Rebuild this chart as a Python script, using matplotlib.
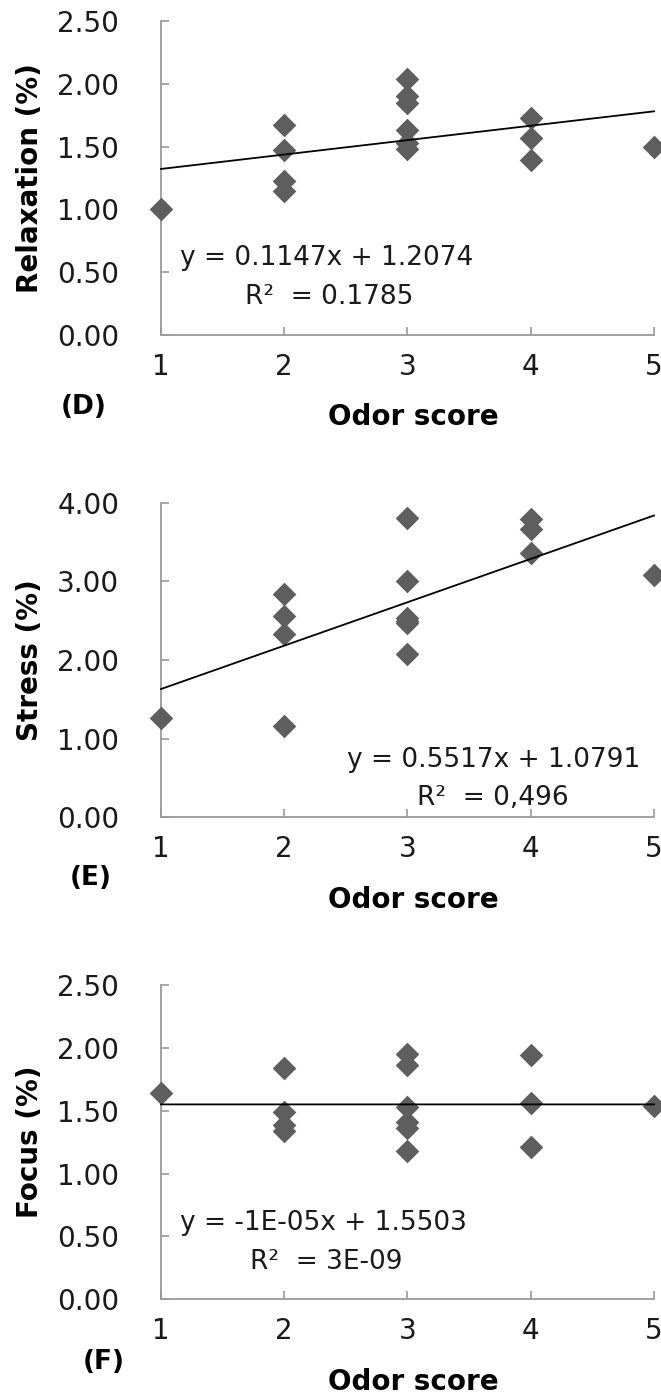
import matplotlib
matplotlib.use("Agg")
import matplotlib.pyplot as plt

# ---------------- data ----------------
odor_x = [1, 2, 2, 2, 2, 3, 3, 3, 3, 3, 3, 4, 4, 4, 5]

relaxation = [1.00, 1.67, 1.47, 1.23, 1.15, 2.04, 1.90, 1.85, 1.63, 1.53, 1.48, 1.73, 1.57, 1.39, 1.50]
stress     = [1.26, 2.84, 2.56, 2.33, 1.16, 3.81, 3.00, 2.53, 2.50, 2.47, 2.08, 3.79, 3.66, 3.36, 3.08]
focus      = [1.64, 1.84, 1.49, 1.39, 1.34, 1.95, 1.86, 1.53, 1.41, 1.36, 1.18, 1.94, 1.56, 1.21, 1.54]

# trend lines (slope, intercept) as printed on the chart
trend_D = (0.1147, 1.2074)
trend_E = (0.5517, 1.0791)
trend_F = (-1e-05, 1.5503)

eq_D = ["y = 0.1147x + 1.2074", "R\u00b2  = 0.1785"]
eq_E = ["y = 0.5517x + 1.0791", "R\u00b2  = 0,496"]
eq_F = ["y = -1E-05x + 1.5503", "R\u00b2  = 3E-09"]

x_ticks = [1, 2, 3, 4, 5]
yticks_D = [0.0, 0.5, 1.0, 1.5, 2.0, 2.5]
yticks_E = [0.0, 1.0, 2.0, 3.0, 4.0]
yticks_F = [0.0, 0.5, 1.0, 1.5, 2.0, 2.5]

ylabels = ["Relaxation (%)", "Stress (%)", "Focus (%)"]
panel_tags = ["(D)", "(E)", "(F)"]
xlabel = "Odor score"

# ---------------- layout ----------------
W, H = 661, 1398
plt.rcParams["font.family"] = ["DejaVu Sans"]
fig = plt.figure(figsize=(W / 100, H / 100), dpi=100)

def fx(px):
    return px / W

def fy(py):
    return 1 - py / H

MARK = "#5e5e5e"
SPINE = "#9a9a9a"
TXT = "#1a1a1a"

panels = [
    dict(top=21, bot=335, y=relaxation, trend=trend_D, ticks=yticks_D, ylim=(0, 2.5),
         eq=eq_D, eqpos=[(180, 258), (245, 297)], tag=(84, 407), xl=417),
    dict(top=502.7, bot=817.3, y=stress, trend=trend_E, ticks=yticks_E, ylim=(0, 4.0),
         eq=eq_E, eqpos=[(347, 760), (417, 798)], tag=(91, 878), xl=900),
    dict(top=985, bot=1299.3, y=focus, trend=trend_F, ticks=yticks_F, ylim=(0, 2.5),
         eq=eq_F, eqpos=[(180, 1223), (250, 1262)], tag=(104, 1362), xl=1382),
]

left_px, right_px = 161, 654

for i, p in enumerate(panels):
    ax = fig.add_axes([fx(left_px), fy(p["bot"]), (right_px - left_px) / W,
                       (p["bot"] - p["top"]) / H])
    ax.set_xlim(1, 5)
    ax.set_ylim(*p["ylim"])
    ax.set_xticks(x_ticks)
    ax.set_yticks(p["ticks"])
    ax.set_yticklabels([f"{t:.2f}" for t in p["ticks"]])
    for s in ["top", "right"]:
        ax.spines[s].set_visible(False)
    for s in ["left", "bottom"]:
        ax.spines[s].set_color(SPINE)
        ax.spines[s].set_linewidth(1.3)
    ax.tick_params(axis="both", direction="in", length=6, width=1.2, color=SPINE,
                   labelsize=20, labelcolor=TXT)
    ax.tick_params(axis="x", pad=13)
    ax.tick_params(axis="y", pad=30)
    ax.patch.set_alpha(0)

    ax.scatter(odor_x, p["y"], marker="D", s=145, color=MARK, linewidths=0,
               zorder=3, clip_on=False)
    m, b = p["trend"]
    xs = [1, 5]
    ax.plot(xs, [m * v + b for v in xs], color="black", lw=1.3, zorder=4, clip_on=False)

    for line, (px, py) in zip(p["eq"], p["eqpos"]):
        fig.text(fx(px), fy(py), line, ha="left", va="center", fontsize=19, color=TXT)

    cy = (p["top"] + p["bot"]) / 2
    fig.text(fx(30), fy(cy), ylabels[i], rotation=90, ha="center", va="center",
             fontsize=20, fontweight="bold", color="black")
    fig.text(fx(413), fy(p["xl"]), xlabel, ha="center", va="center",
             fontsize=20, fontweight="bold", color="black")
    fig.text(fx(p["tag"][0]), fy(p["tag"][1]), panel_tags[i], ha="center", va="center",
             fontsize=19, fontweight="bold", color="black")

fig.savefig("out.png", dpi=100)
